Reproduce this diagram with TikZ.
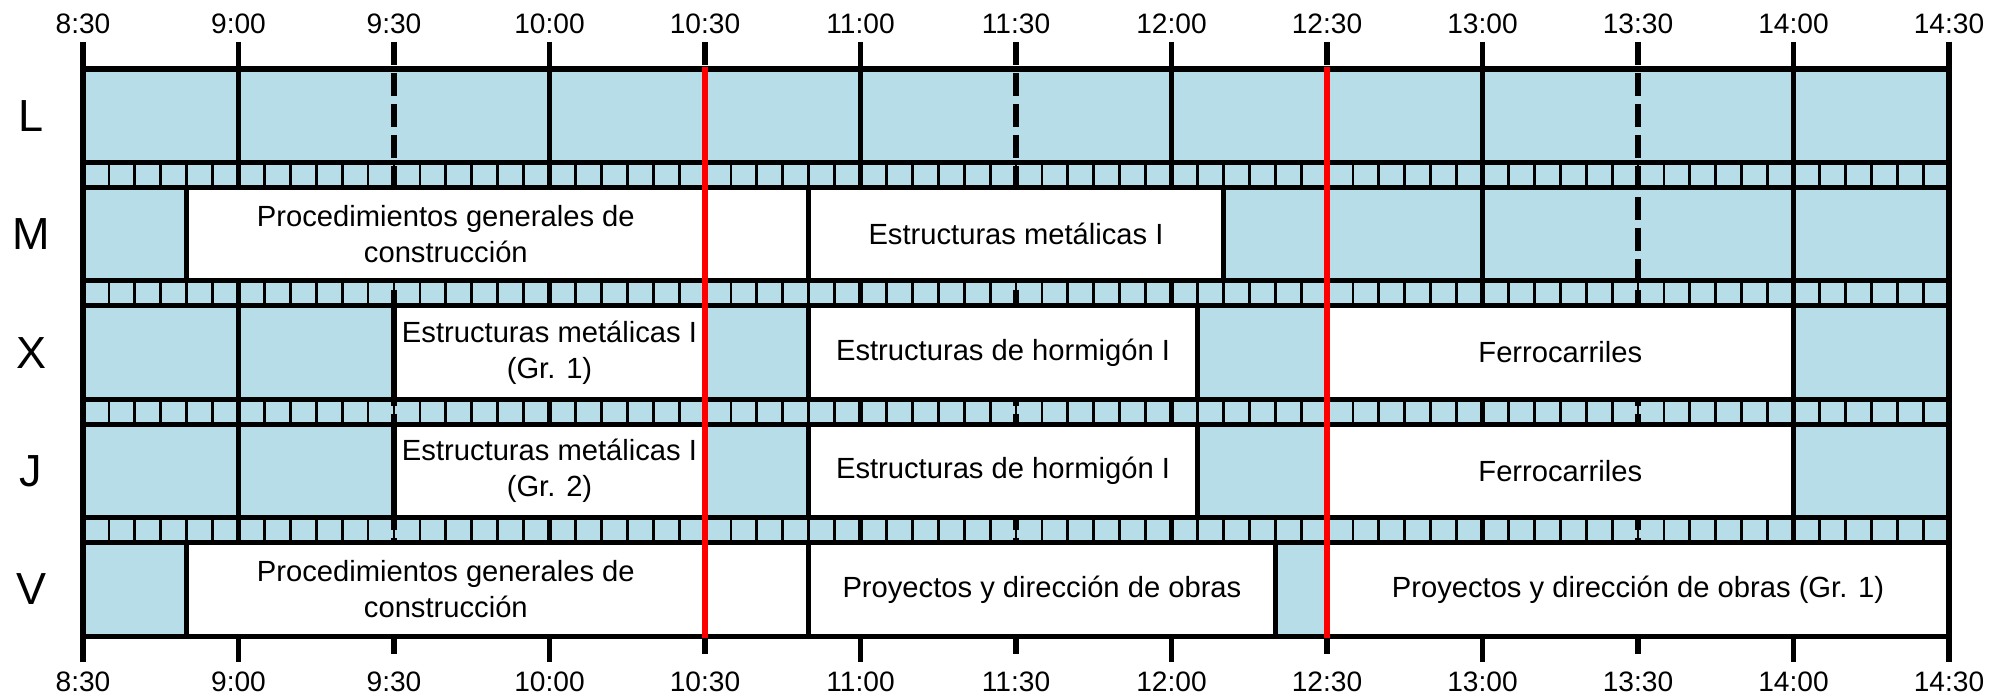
\documentclass[tikz,border=0pt]{standalone}
\usepackage{fontspec}
\setmainfont{Liberation Sans}
\definecolor{slot}{RGB}{183,221,232}
\tikzset{
	grid/.style={line width=1.45pt},
	minor/.style={line width=0.8pt},
	halfhour/.style={line width=1.45pt,dash pattern=on 0.23cm off 0.08cm},
	course/.style={draw,fill=white,line width=1.45pt},
	redline/.style={red,line width=1.9pt},
	hour/.style={font=\fontsize{8}{9.6}\selectfont},
	day/.style={font=\fontsize{12.8}{15}\selectfont},
	subject/.style={font=\fontsize{8.3}{10.2}\selectfont,align=center}
}

\begin{document}
\begin{tikzpicture}[x=0.0518333cm,y=-0.01cm]
	\useasboundingbox (-16.013,0) rectangle (368.68,696);
	\fill[slot] (0,69) rectangle (360,636.5);
	\foreach \y in {162.5,281,399.5,518}
		\foreach \t in {5,10,...,355}
			\draw[minor] (\t,\y) -- (\t,\y+25);
	\foreach \t in {0,30,90,150,210,270,330,360}
		\draw[grid] (\t,42) -- (\t,662);
	\foreach \t in {60,120,180,240,300}
		\draw[halfhour] (\t,42) -- (\t,662);
	\foreach \y in {69,162.5,187.5,281,306,399.5,424.5,518,543,636.5}
		\draw[grid] (0,\y) -- (360,\y);
	\draw[course] (20,187.5) rectangle (140,281);
	\draw[course] (140,187.5) rectangle (220,281);
	\draw[course] (60,306) rectangle (120,399.5);
	\draw[course] (140,306) rectangle (215,399.5);
	\draw[course] (240,306) rectangle (330,399.5);
	\draw[course] (60,424.5) rectangle (120,518);
	\draw[course] (140,424.5) rectangle (215,518);
	\draw[course] (240,424.5) rectangle (330,518);
	\draw[course] (20,543) rectangle (140,636.5);
	\draw[course] (140,543) rectangle (230,636.5);
	\draw[course] (240,543) rectangle (360,636.5);
	\draw[redline] (120,67) -- (120,638);
	\draw[redline] (240,67) -- (240,638);
	\foreach \t/\lab in {0/8:30,30/9:00,60/9:30,90/10:00,120/10:30,150/11:00,180/11:30,210/12:00,240/12:30,270/13:00,300/13:30,330/14:00,360/14:30}{
		\node[hour] (top\t) at (\t,24) {\lab};
		\node[hour] (bot\t) at (\t,682) {\lab};
	}
	\foreach \d/\y in {L/115.75,M/234.25,X/352.75,J/471.25,V/589.75}
		\node[day] (day\d) at (-10,\y) {\d};
	\node[subject] (procM) at (70,234.25) {Procedimientos generales de\\construcción};
	\node[subject] (metM) at (180,234.25) {Estructuras metálicas I};
	\node[subject] (metX) at (90,352.75) {Estructuras metálicas I\\(Gr. 1)};
	\node[subject] (horX) at (177.5,352.75) {Estructuras de hormigón I};
	\node[subject] (ferX) at (285,352.75) {Ferrocarriles};
	\node[subject] (metJ) at (90,471.25) {Estructuras metálicas I\\(Gr. 2)};
	\node[subject] (horJ) at (177.5,471.25) {Estructuras de hormigón I};
	\node[subject] (ferJ) at (285,471.25) {Ferrocarriles};
	\node[subject] (procV) at (70,589.75) {Procedimientos generales de\\construcción};
	\node[subject] (proyV) at (185,589.75) {Proyectos y dirección de obras};
	\node[subject] (proyGV) at (300,589.75) {Proyectos y dirección de obras (Gr. 1)};
\end{tikzpicture}
\end{document}
